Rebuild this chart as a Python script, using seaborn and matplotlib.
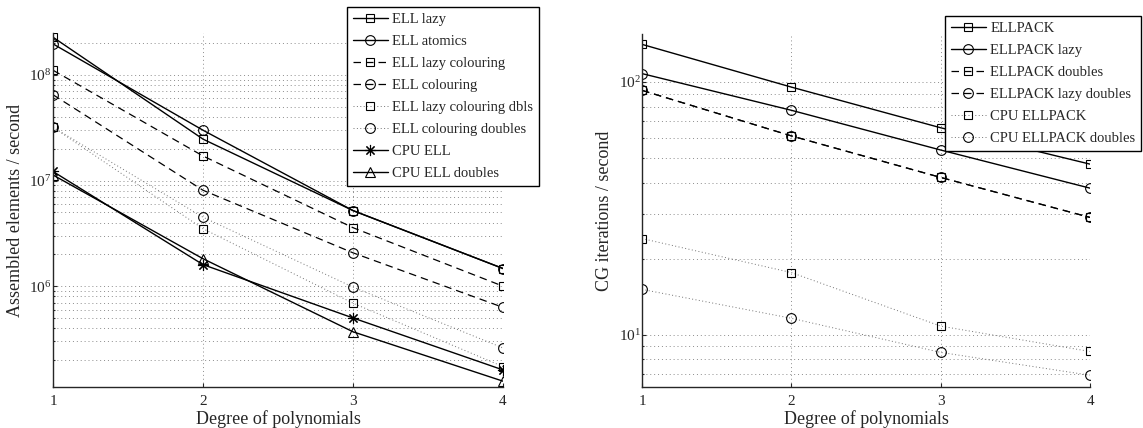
import pandas as pd
import matplotlib
matplotlib.use("Agg")
import matplotlib.pyplot as plt
import seaborn as sns
from matplotlib.ticker import LogLocator, FixedLocator, NullFormatter

# ==========================================
# DATA
# ==========================================
degree = [1, 2, 3, 4]

# left panel: assembly throughput
ell_lazy = [2.28e8, 2.47e7, 5.2e6, 1.47e6]
ell_atomics = [1.97e8, 3.0e7, 5.2e6, 1.47e6]
ell_lazy_colouring = [1.11e8, 1.71e7, 3.58e6, 1.0e6]
ell_colouring = [6.5e7, 8.1e6, 2.07e6, 6.3e5]
ell_lazy_colouring_dbls = [3.2e7, 3.5e6, 6.9e5, 1.73e5]
ell_colouring_doubles = [3.2e7, 4.5e6, 9.8e5, 2.6e5]
cpu_ell = [1.22e7, 1.6e6, 5.0e5, 1.61e5]
cpu_ell_doubles = [1.13e7, 1.82e6, 3.7e5, 1.26e5]

# right panel: CG solver throughput
ellpack = [141, 95.5, 65.9, 47.3]
ellpack_lazy = [108, 77.3, 53.8, 38.0]
ellpack_doubles = [92.7, 61.2, 41.9, 29.1]
ellpack_lazy_doubles = [92.7, 61.2, 41.9, 29.1]
cpu_ellpack = [24.0, 17.6, 10.8, 8.57]
cpu_ellpack_doubles = [15.1, 11.6, 8.5, 6.9]

left_labels = ["ELL lazy", "ELL atomics", "ELL lazy colouring", "ELL colouring",
               "ELL lazy colouring dbls", "ELL colouring doubles", "CPU ELL", "CPU ELL doubles"]
left_series = [ell_lazy, ell_atomics, ell_lazy_colouring, ell_colouring,
               ell_lazy_colouring_dbls, ell_colouring_doubles, cpu_ell, cpu_ell_doubles]

right_labels = ["ELLPACK", "ELLPACK lazy", "ELLPACK doubles", "ELLPACK lazy doubles",
                "CPU ELLPACK", "CPU ELLPACK doubles"]
right_series = [ellpack, ellpack_lazy, ellpack_doubles, ellpack_lazy_doubles,
                cpu_ellpack, cpu_ellpack_doubles]

# line style per entry: (linestyle, colour, width), marker
SOLID = ("-", "k", 1.0)
DASH = ((0, (6, 4)), "k", 0.9)
DOT = ((0, (1, 2.5)), "0.45", 0.7)
ASTER = (8, 2, 0)  # MATLAB-like asterisk
left_styles = [(SOLID, "s"), (SOLID, "o"), (DASH, "s"), (DASH, "o"),
               (DOT, "s"), (DOT, "o"), (SOLID, ASTER), (SOLID, "^")]
right_styles = [(SOLID, "s"), (SOLID, "o"), (DASH, "s"), (DASH, "o"),
                (DOT, "s"), (DOT, "o")]

# ==========================================
# STYLE
# ==========================================
sns.set_style("ticks")
plt.rcParams["font.family"] = ["Liberation Serif", "DejaVu Serif"]
plt.rcParams["mathtext.fontset"] = "stix"
plt.rcParams["xtick.direction"] = "in"
plt.rcParams["ytick.direction"] = "in"


def draw_panel(ax, labels, series, styles, ylabel, ylim, leg_anchor):
    for lab, vals, ((ls, col, lw), mk) in zip(labels, series, styles):
        df = pd.DataFrame({"degree": degree, "value": vals})
        ms = 8 if mk == ASTER else 7 if mk in ("o", "^") else 6
        sns.lineplot(data=df, x="degree", y="value", ax=ax, label=lab,
                     color=col, linestyle=ls, linewidth=lw, marker=mk,
                     markersize=ms, markerfacecolor="none",
                     markeredgecolor="k", markeredgewidth=0.8)
    ax.set_yscale("log")
    ax.set_xlim(1, 4)
    ax.set_ylim(*ylim)
    ax.xaxis.set_major_locator(FixedLocator(degree))
    ax.yaxis.set_minor_locator(LogLocator(base=10, subs=range(2, 10), numticks=20))
    ax.yaxis.set_minor_formatter(NullFormatter())
    ax.grid(True, which="major", linestyle=(0, (1, 3)), color="0.55", linewidth=0.7)
    ax.grid(True, which="minor", axis="y", linestyle=(0, (1, 3)), color="0.55", linewidth=0.7)
    ax.tick_params(which="both", labelsize=11, length=3, width=0.8)
    ax.tick_params(axis="x", pad=6)
    ax.tick_params(axis="y", pad=1)
    ax.tick_params(which="minor", length=1.5)
    ax.set_xlabel("Degree of polynomials", fontsize=13, labelpad=1)
    ax.set_ylabel(ylabel, fontsize=13, labelpad=4)
    for s in ("top", "right"):
        ax.spines[s].set_visible(False)
    for s in ("left", "bottom"):
        ax.spines[s].set_linewidth(1.0)
    leg = ax.legend(loc="upper right", bbox_to_anchor=leg_anchor, fontsize=10.5,
                    frameon=True, fancybox=False, edgecolor="k", framealpha=1,
                    handlelength=2.4, handletextpad=0.3, borderpad=0.4,
                    labelspacing=0.6, borderaxespad=0)
    leg.get_frame().set_linewidth(1.0)


fig = plt.figure(figsize=(11.43, 4.28), dpi=100)
ax1 = fig.add_axes([0.0464, 0.0958, 0.3937, 0.8271])
ax2 = fig.add_axes([0.5617, 0.0958, 0.3920, 0.8248])

draw_panel(ax1, left_labels, left_series, left_styles,
           "Assembled elements / second", (1.11e5, 2.5e8), (1.08, 1.073))
draw_panel(ax2, right_labels, right_series, right_styles,
           "CG iterations / second", (6.2, 155), (1.114, 1.051))

fig.savefig("out.png", dpi=100)
